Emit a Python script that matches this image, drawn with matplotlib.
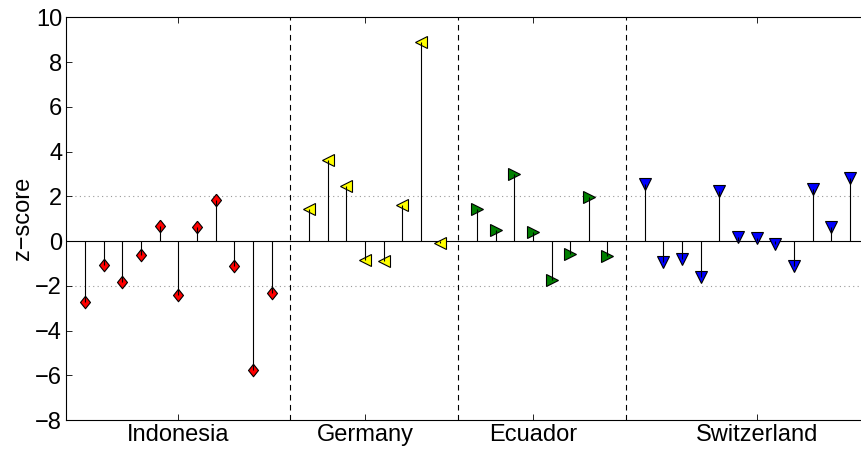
import numpy as np
import matplotlib
matplotlib.use("Agg")
from matplotlib import pyplot as plt

countries = ["Indonesia", "Germany", "Ecuador", "Switzerland"]
indonesia = [-2.73, -1.07, -1.85, -0.61, 0.69, -2.40, 0.61, 1.85, -1.13, -5.78, -2.34]
germany = [1.42, 3.64, 2.45, -0.83, -0.88, 1.60, 8.91, -0.09]
ecuador = [1.45, 0.51, 2.98, 0.40, -1.73, -0.59, 1.95, -0.65]
switzerland = [2.57, -0.94, -0.80, -1.61, 2.24, 0.18, 0.15, -0.12, -1.10, 2.32, 0.63, 2.80]
tick_pos = [6, 16, 25, 37]

groups = [indonesia, germany, ecuador, switzerland]
colors = ["red", "yellow", "green", "blue"]
diamond = [(0, 1), (0.8, 0), (0, -1), (-0.8, 0), (0, 1)]
markers = [diamond, "<", ">", "v"]
sizes = [9, 8.5, 8.5, 8.5]

plt.rcParams["font.family"] = ["Liberation Sans", "DejaVu Sans"]
fig = plt.figure(figsize=(8.61, 4.53), dpi=100)
ax = fig.add_axes([0.077, 0.0728, 0.932, 0.889])

start = 1
dividers = []
for vals, col, mk, ms in zip(groups, colors, markers, sizes):
    x = np.arange(start, start + len(vals))
    ax.plot(x, vals, linestyle="none", marker=mk, markersize=ms,
            markerfacecolor=col, markeredgecolor="black", markeredgewidth=0.8, zorder=3)
    # stems over the markers, as the original plotting tool drew them
    ax.vlines(x, 0, vals, color="black", linewidth=0.8, zorder=4)
    start += len(vals) + 1
    dividers.append(start - 1)

for d in dividers[:-1]:
    ax.axvline(d, color="black", linestyle=(0, (5, 4)), linewidth=0.8, zorder=2)

ax.axhline(0, color="black", linewidth=0.8, zorder=2)
for yv in (2, -2):
    ax.axhline(yv, color="#999999", linestyle=(0, (1, 3)), linewidth=0.8, zorder=1)

ax.set_xlim(0, 43)
ax.set_ylim(-8, 10)
ax.set_yticks(np.arange(-8, 11, 2))
ax.set_xticks(tick_pos)
ax.set_xticklabels(countries)
ax.tick_params(direction="in", top=True, right=True, labelsize=17, length=4, width=0.6, pad=3)
ax.set_ylabel("z\u2212score", fontsize=17, labelpad=1)
for s in ax.spines.values():
    s.set_linewidth(0.8)

fig.savefig("out.png", dpi=100)
